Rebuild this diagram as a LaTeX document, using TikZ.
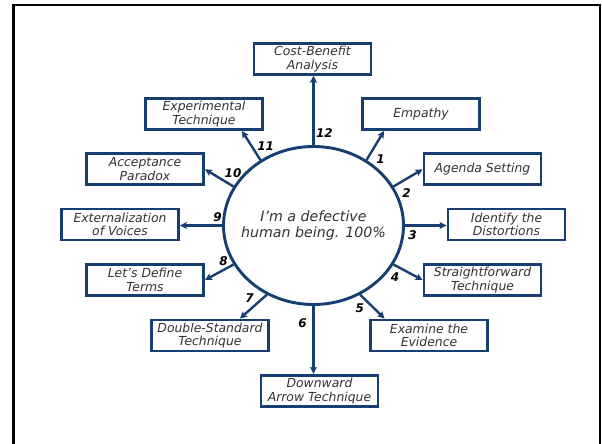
\documentclass[tikz,border=0pt]{standalone}
\usepackage{fontspec}
\setmainfont{DejaVu Sans}
\usetikzlibrary{shapes.geometric,arrows.meta,calc}
\definecolor{navy}{RGB}{22,62,112}
\definecolor{txt}{RGB}{50,50,50}
\tikzset{
  techbox/.style={draw=navy,line width=2.9pt,minimum width=117pt,minimum height=31pt,inner sep=0pt,align=center,text=txt,font=\fontsize{12.4}{13.6}\selectfont\itshape},
  conn/.style={draw=navy,line width=2.4pt,-{Stealth[length=7pt,width=7pt,inset=1.5pt]}},
  numlab/.style={font=\fontsize{12}{13}\selectfont\bfseries\itshape,text=black,inner sep=0pt}
}
\begin{document}
\begin{tikzpicture}[x=1pt,y=-1pt]
\useasboundingbox (0,0) rectangle (602,444);
\draw[line width=2.8pt,black] (13.5,460) -- (13.5,5) -- (600,5) -- (600,460);
\node[ellipse,draw=navy,line width=2.9pt,minimum width=180pt,minimum height=158pt,inner sep=0pt] (c) at (313.5,225.5) {};
\node[align=center,text=txt,inner sep=0pt,font=\fontsize{14.2}{16.2}\selectfont\itshape] (ct) at (c.center) {I’m a defective\\human being. 100\%};
\node[techbox] (cba) at (312.5,58.8) {Cost-Benefit\\Analysis};
\node[techbox] (emp) at (421,114) {Empathy};
\node[techbox] (exp) at (204,114) {Experimental\\Technique};
\node[techbox] (acc) at (145,169.3) {Acceptance\\Paradox};
\node[techbox] (agd) at (482.5,169.3) {Agenda Setting};
\node[techbox] (ext) at (120,224.5) {Externalization\\of Voices};
\node[techbox] (idf) at (506.5,224.5) {Identify the\\Distortions};
\node[techbox] (let) at (145,280) {Let’s Define\\Terms};
\node[techbox] (str) at (482.5,280) {Straightforward\\Technique};
\node[techbox] (dbl) at (210,335.5) {Double-Standard\\Technique};
\node[techbox] (exa) at (429,335.5) {Examine the\\Evidence};
\node[techbox] (dwn) at (319.5,390.8) {Downward\\Arrow Technique};
\coordinate (e1) at ($(emp.south west)+(23,0)$);
\coordinate (e11) at ($(exp.south east)+(-22,0)$);
\coordinate (e5) at ($(exa.north west)+(15.5,0)$);
\coordinate (e7) at ($(dbl.north east)+(-30,0)$);
\draw[conn] (c.51) -- (e1);
\draw[conn] (c.26) -- (agd.west);
\draw[conn] (c.east) -- (c.east -| idf.west);
\draw[conn] (c.-26) -- (str.west);
\draw[conn] (c.-56) -- (e5);
\draw[conn] (c.south) -- (c.south |- dwn.north);
\draw[conn] (c.236) -- (e7);
\draw[conn] (c.206) -- (let.east);
\draw[conn] (c.west) -- (c.west -| ext.east);
\draw[conn] (c.154) -- (acc.east);
\draw[conn] (c.129) -- (e11);
\draw[conn] (c.north) -- (c.north |- cba.south);
\node[numlab] (n1) at (380.5,158.7) {1};
\node[numlab] (n2) at (406.5,193.3) {2};
\node[numlab] (n3) at (412.5,235.3) {3};
\node[numlab] (n4) at (395,276.7) {4};
\node[numlab] (n5) at (359.7,308.7) {5};
\node[numlab] (n6) at (302.5,322.7) {6};
\node[numlab] (n7) at (249.5,298.3) {7};
\node[numlab] (n8) at (223.5,261) {8};
\node[numlab] (n9) at (217.5,217.3) {9};
\node[numlab] (n10) at (233,173.3) {10};
\node[numlab] (n11) at (265.6,145.7) {11};
\node[numlab] (n12) at (324.4,132.7) {12};
\end{tikzpicture}
\end{document}
